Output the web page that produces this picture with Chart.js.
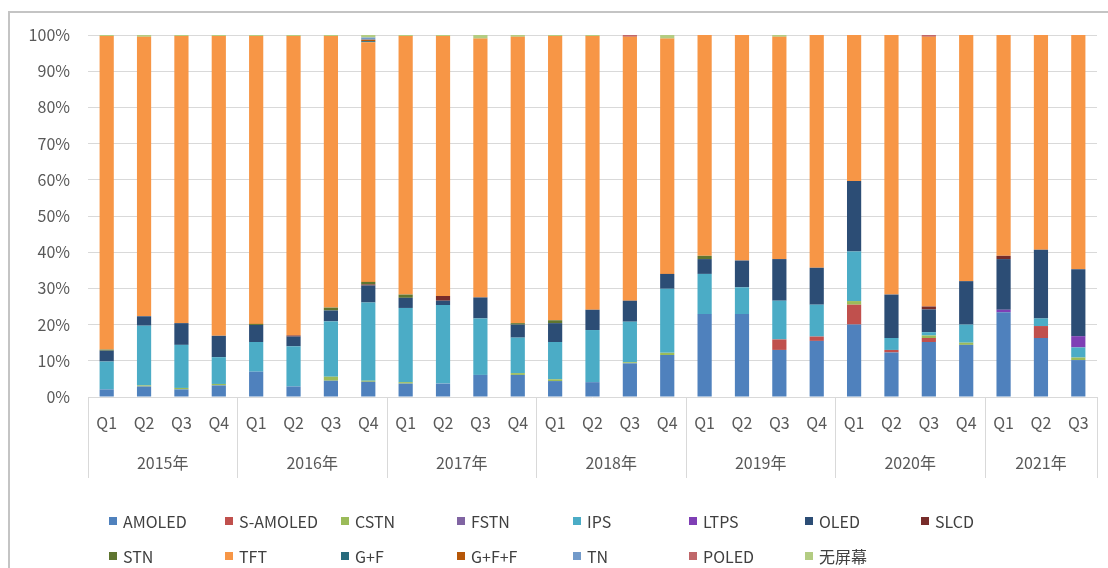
<!DOCTYPE html>
<html>
<head>
<meta charset="utf-8">
<script src="https://cdn.jsdelivr.net/npm/chart.js@4/dist/chart.umd.min.js"></script>
<style>
    body { margin: 0; background: #fff; }
    #wrap { position: relative; width: 1108px; height: 568px; overflow: hidden; }
    #frame { position: absolute; left: 8px; top: 11px; width: 1200px; height: 700px;
        border-left: 2px solid #c4c4c4; border-top: 2px solid #c4c4c4; }
    #legend {
        position: absolute; left: 109px; top: 512px;
        display: grid; grid-template-columns: repeat(8, 116px); row-gap: 17px;
        font-family: "Noto Sans CJK SC", "Noto Sans", sans-serif; font-size: 16px; color: #404040;
    }
    .item { display: flex; align-items: center; height: 18px; white-space: nowrap; }
    .box { width: 8px; height: 8px; margin-right: 6px; flex: none; }
    canvas { position: absolute; left: 0; top: 0; }
</style>
</head>
<body>
<div id="wrap">
    <div id="frame"></div>
    <canvas id="chart" width="1108" height="568"></canvas>
    <div id="legend"></div>
</div>
<script>
const quarters = ['Q1','Q2','Q3','Q4','Q1','Q2','Q3','Q4','Q1','Q2','Q3','Q4','Q1','Q2','Q3','Q4',
    'Q1','Q2','Q3','Q4','Q1','Q2','Q3','Q4','Q1','Q2','Q3'];
const years = ['2015年','2016年','2017年','2018年','2019年','2020年','2021年'];
const quartersPerYear = [4, 4, 4, 4, 4, 4, 3];

const amoled   = [2.1,2.9,2.1,3.2, 7.0,2.9,4.5,4.2, 3.7,3.7,6.1,6.1, 4.4,4.1,9.3,11.6, 22.9,22.9,13.0,15.5, 20.0,12.3,15.2,14.4, 23.4,16.3,10.2];
const sAmoled  = [0,0,0,0, 0,0,0,0, 0,0,0,0, 0,0,0,0, 0,0,2.9,1.2, 5.5,0.7,1.1,0, 0,3.3,0];
const cstn     = [0,0.3,0.4,0.4, 0,0,1.1,0.3, 0.4,0,0,0.5, 0.5,0,0.3,0.6, 0,0,0,0, 1.0,0,0.7,0.6, 0,0,0.7];
const fstn     = [0,0,0,0, 0,0,0,0, 0,0,0,0, 0,0,0,0, 0,0,0,0, 0,0,0,0, 0,0,0];
const ips      = [7.7,16.5,11.9,7.4, 8.2,11.1,15.3,21.6, 20.5,21.7,15.6,9.8, 10.3,14.4,11.2,17.7, 11.1,7.4,10.7,8.8, 13.7,3.3,0.9,5.0, 0,2.1,2.8];
const ltps     = [0,0,0,0, 0,0,0,0, 0,0,0,0, 0,0,0,0, 0,0,0,0, 0,0,0,0, 0.7,0,3.1];
const oled     = [3.0,2.6,6.0,5.9, 4.7,2.7,3.0,4.7, 2.8,1.2,5.8,3.6, 5.2,5.6,5.8,4.1, 4.1,7.4,11.5,10.2, 19.5,12.0,6.3,12.0, 14.0,19.0,18.5];
const slcd     = [0,0,0,0, 0,0.3,0,0.3, 0,1.3,0,0, 0,0,0,0, 0,0,0,0, 0,0,0.8,0, 0.9,0,0];
const stn      = [0.3,0,0,0, 0.3,0,0.8,0.7, 0.9,0,0,0.4, 0.8,0,0,0, 0.9,0,0,0, 0,0,0,0, 0,0,0];
const tft      = [86.6,77.2,79.3,82.8, 79.5,82.7,75.0,66.2, 71.4,71.8,71.5,79.1, 78.5,75.6,72.9,65.0, 61.0,62.3,61.4,64.3, 40.3,71.7,74.5,68.0, 61.0,59.3,64.7];
const gf       = [0,0,0,0, 0,0,0,0.3, 0,0,0,0, 0,0,0,0, 0,0,0,0, 0,0,0,0, 0,0,0];
const gff      = [0,0,0,0, 0,0,0,0.4, 0,0,0,0, 0,0,0,0, 0,0,0,0, 0,0,0,0, 0,0,0];
const tn       = [0,0,0,0, 0,0,0,0.6, 0,0,0,0, 0,0,0,0, 0,0,0,0, 0,0,0,0, 0,0,0];
const poled    = [0,0,0,0, 0,0,0,0, 0,0,0,0, 0,0,0.5,0, 0,0,0,0, 0,0,0.5,0, 0,0,0];
const noScreen = [0.3,0.5,0.3,0.3, 0.3,0.3,0.3,0.7, 0.3,0.3,1.0,0.5, 0.3,0.3,0,1.0, 0,0,0.5,0, 0,0,0,0, 0,0,0];

const series = [
    ['AMOLED', amoled, '#4F81BD'],
    ['S-AMOLED', sAmoled, '#C0504D'],
    ['CSTN', cstn, '#9BBB59'],
    ['FSTN', fstn, '#8064A2'],
    ['IPS', ips, '#4BACC6'],
    ['LTPS', ltps, '#7F3FB5'],
    ['OLED', oled, '#2C4D75'],
    ['SLCD', slcd, '#772C2A'],
    ['STN', stn, '#5F7530'],
    ['TFT', tft, '#F79646'],
    ['G+F', gf, '#276A7C'],
    ['G+F+F', gff, '#B65708'],
    ['TN', tn, '#729ACA'],
    ['POLED', poled, '#C0676A'],
    ['无屏幕', noScreen, '#B3CC82']
];

const FONT = '"Noto Sans CJK SC", "Noto Sans", sans-serif';
const TEXT = '#595959';
const LINE = '#d9d9d9';

// year labels and separators under the quarter ticks
const yearAxis = {
    id: 'yearAxis',
    afterDraw(chart) {
        const ctx = chart.ctx;
        const x = chart.scales.x;
        const half = (x.getPixelForValue(1) - x.getPixelForValue(0)) / 2;
        const top = chart.chartArea.bottom;
        ctx.save();
        ctx.strokeStyle = LINE;
        ctx.lineWidth = 1;
        ctx.fillStyle = TEXT;
        ctx.font = '16px ' + FONT;
        ctx.textAlign = 'center';
        ctx.textBaseline = 'middle';
        let start = 0;
        years.forEach((y, i) => {
            const end = start + quartersPerYear[i] - 1;
            const left = x.getPixelForValue(start) - half;
            const right = x.getPixelForValue(end) + half;
            [left, right].forEach(px => {
                ctx.beginPath();
                ctx.moveTo(Math.round(px) + 0.5, top);
                ctx.lineTo(Math.round(px) + 0.5, top + 81);
                ctx.stroke();
            });
            ctx.fillText(y, (left + right) / 2, top + 66);
            start = end + 1;
        });
        ctx.restore();
    }
};

new Chart(document.getElementById('chart'), {
    type: 'bar',
    data: {
        labels: quarters,
        datasets: series.map(([label, data, color]) => ({
            label, data, backgroundColor: color, borderWidth: 0,
            categoryPercentage: 1, barPercentage: 0.38
        }))
    },
    options: {
        responsive: false,
        animation: false,
        layout: { padding: { top: 35, right: 11, bottom: 0, left: 0 } },
        plugins: { legend: { display: false }, tooltip: { enabled: false } },
        scales: {
            x: {
                stacked: true,
                grid: { display: false },
                border: { display: false },
                ticks: { color: TEXT, font: { family: FONT, size: 16 }, padding: 8, maxRotation: 0, autoSkip: false },
                afterFit: s => { s.height = 171; }
            },
            y: {
                stacked: true,
                min: 0, max: 100,
                grid: { color: LINE, drawTicks: false },
                border: { display: false },
                ticks: { stepSize: 10, color: TEXT, font: { family: FONT, size: 16 }, padding: 18, callback: v => v + '%' },
                afterFit: s => { s.width = 88; }
            }
        }
    },
    plugins: [yearAxis]
});

const legend = document.getElementById('legend');
series.forEach(([label, , color]) => {
    const item = document.createElement('div');
    item.className = 'item';
    item.innerHTML = `<span class="box" style="background:${color}"></span>${label}`;
    legend.appendChild(item);
});
</script>
</body>
</html>
